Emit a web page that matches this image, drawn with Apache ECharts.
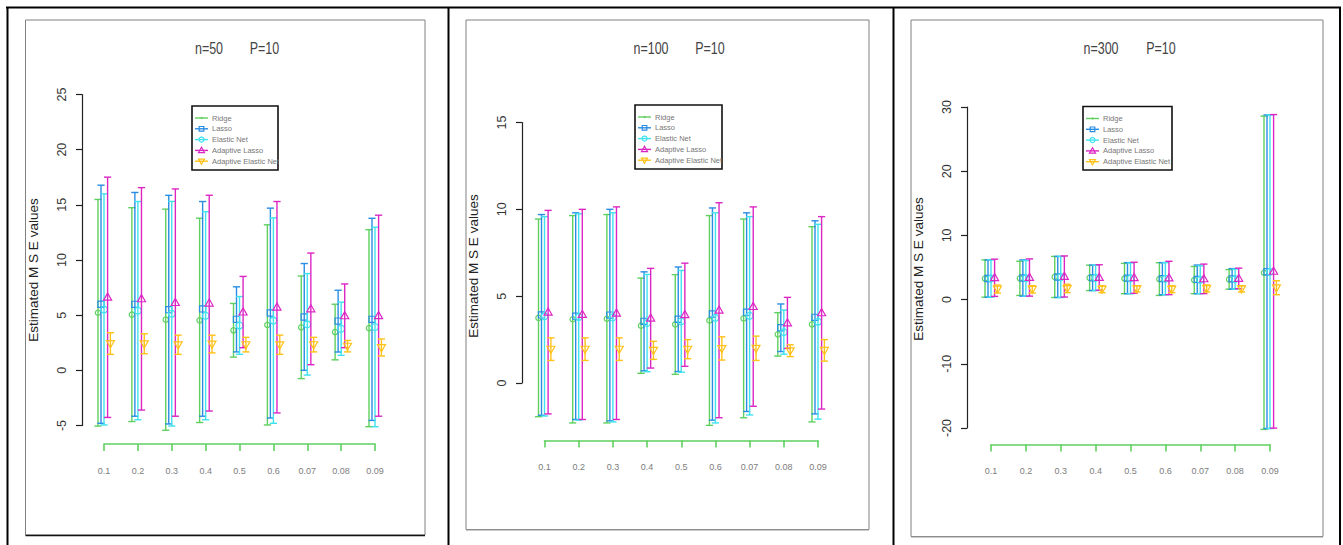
<!DOCTYPE html>
<html><head><meta charset="utf-8">
<script src="https://cdn.jsdelivr.net/npm/echarts@6/dist/echarts.min.js"></script>
<style>html,body{margin:0;padding:0;background:#fff}#c{width:1343px;height:545px}</style>
</head><body><div id="c"></div>
<script>
// ---------------- DATA ----------------
const categories = ['0.1','0.2','0.3','0.4','0.5','0.6','0.07','0.08','0.09'];
const methods = ['Ridge','Lasso','Elastic Net','Adaptive Lasso','Adaptive Elastic Net'];
const panelTitles = [['n=50','P=10'],['n=100','P=10'],['n=300','P=10']];
const yAxisTitle = 'Estimated M S E values';
// y-axis tick values per panel
const yTicksN50 = [-5, 0, 5, 10, 15, 20, 25];
const yTicksN100 = [0, 5, 10, 15];
const yTicksN300 = [-20, -10, 0, 10, 20, 30];

// n=50 : mean MSE (rows = methods, cols = categories)
const n50Mean = [
  [5.22, 5.05, 4.59, 4.53, 3.63, 4.12, 3.90, 3.47, 3.82],
  [5.99, 5.98, 5.50, 5.57, 4.62, 5.19, 4.84, 4.46, 4.62],
  [5.52, 5.41, 5.13, 4.95, 4.07, 4.51, 4.17, 3.77, 3.93],
  [6.62, 6.48, 6.14, 6.09, 5.28, 5.72, 5.57, 4.94, 4.95],
  [2.43, 2.41, 2.32, 2.38, 2.33, 2.32, 2.33, 2.19, 2.07]
];
// n=50 : error-bar half width
const n50Sd = [
  [10.27, 9.69, 10.02, 9.26, 2.43, 9.07, 4.65, 2.52, 8.93],
  [10.79, 10.14, 10.36, 9.73, 2.95, 9.51, 4.84, 2.80, 9.16],
  [10.47, 9.89, 10.18, 9.43, 2.62, 9.31, 4.60, 2.41, 9.04],
  [10.89, 10.08, 10.30, 9.78, 3.23, 9.58, 5.06, 2.89, 9.11],
  [0.98, 0.90, 0.87, 0.80, 0.66, 0.87, 0.66, 0.52, 0.77]
];
const n100Mean = [
  [3.75, 3.67, 3.70, 3.30, 3.37, 3.60, 3.72, 2.80, 3.38],
  [3.92, 3.85, 3.91, 3.55, 3.67, 3.97, 4.08, 3.18, 3.78],
  [3.84, 3.80, 3.78, 3.45, 3.55, 3.75, 3.87, 2.93, 3.53],
  [4.08, 3.95, 4.02, 3.73, 3.93, 4.19, 4.40, 3.46, 4.04],
  [1.95, 1.95, 1.95, 1.88, 1.95, 1.99, 2.00, 1.86, 1.88]
];
const n100Sd = [
  [5.69, 5.97, 6.00, 2.74, 2.87, 6.04, 5.72, 1.25, 5.62],
  [5.78, 5.95, 6.09, 2.85, 3.01, 6.11, 5.72, 1.37, 5.56],
  [5.74, 5.94, 6.02, 2.80, 2.93, 6.05, 5.71, 1.27, 5.61],
  [5.86, 6.05, 6.12, 2.87, 2.97, 6.19, 5.74, 1.47, 5.54],
  [0.65, 0.65, 0.65, 0.52, 0.55, 0.67, 0.70, 0.34, 0.62]
];
const n300Mean = [
  [3.28, 3.31, 3.53, 3.39, 3.28, 3.20, 3.04, 3.15, 4.18],
  [3.28, 3.36, 3.53, 3.39, 3.34, 3.26, 3.15, 3.23, 4.34],
  [3.28, 3.31, 3.53, 3.39, 3.31, 3.26, 3.09, 3.19, 4.34],
  [3.40, 3.44, 3.60, 3.45, 3.40, 3.37, 3.23, 3.30, 4.40],
  [1.65, 1.60, 1.74, 1.63, 1.68, 1.63, 1.74, 1.68, 1.85]
];
const n300Sd = [
  [2.90, 2.66, 3.20, 1.98, 2.36, 2.55, 2.12, 1.52, 24.40],
  [2.90, 2.82, 3.20, 1.98, 2.42, 2.50, 2.23, 1.60, 24.42],
  [2.90, 2.77, 3.20, 1.98, 2.40, 2.50, 2.17, 1.56, 24.42],
  [2.90, 2.90, 3.20, 1.98, 2.42, 2.60, 2.30, 1.60, 24.42],
  [0.62, 0.57, 0.65, 0.54, 0.49, 0.54, 0.55, 0.49, 1.09]
];

// ---------------- STYLE / LAYOUT ----------------
const COLORS = ['#5fd05f', '#2a8de4', '#3fe2ee', '#dc26c4', '#ffc21a'];
const OFFSETS = [-6, -3, 0, 3.6, 6.4];
const CAP = 3.6;
const FONT = 'Liberation Sans, Arial, Helvetica, sans-serif';
const AXIS_GREEN = COLORS[0];

const panels = [
  {mean: n50Mean, sd: n50Sd, ticks: yTicksN50,
   grid: {left: 104, top: 94.5, width: 271, height: 331}, yOff: 22, xOff: 18.5,
   box: [25.5, 20, 399.5, 515], legend: [192, 106, 86, 64], titleX: [209, 264.5], yTitle: [33, 270]},
  {mean: n100Mean, sd: n100Sd, ticks: yTicksN100,
   grid: {left: 544.5, top: 122.5, width: 273.5, height: 260.5}, yOff: 22.5, xOff: 57.5,
   box: [466, 20, 403, 509.5], legend: [635, 105, 87, 64], titleX: [651, 710], yTitle: [473, 266]},
  {mean: n300Mean, sd: n300Sd, ticks: yTicksN300,
   grid: {left: 991, top: 107, width: 279, height: 321}, yOff: 24, xOff: 16.5,
   box: [911, 20, 412, 516.5], legend: [1083, 106.5, 89, 63.5], titleX: [1101, 1161], yTitle: [918, 269]}
];

function markerShape(k, cx, cy, color, scale) {
  const s = scale || 1;
  const st = {stroke: color, lineWidth: 1.2, fill: null};
  if (k === 0) return {type: 'circle', shape: {cx, cy, r: 2.7 * s}, style: st};
  if (k === 1) return {type: 'rect', shape: {x: cx - 3.1 * s, y: cy - 3.1 * s, width: 6.2 * s, height: 6.2 * s}, style: st};
  if (k === 2) return {type: 'circle', shape: {cx, cy, r: 3.4 * s}, style: st};
  if (k === 3) return {type: 'polygon', shape: {points: [[cx, cy - 4.2 * s], [cx - 4 * s, cy + 2.9 * s], [cx + 4 * s, cy + 2.9 * s]]}, style: st};
  return {type: 'polygon', shape: {points: [[cx, cy + 4.2 * s], [cx - 4 * s, cy - 2.9 * s], [cx + 4 * s, cy - 2.9 * s]]}, style: st};
}

function makeRender(k) {
  return function (params, api) {
    const ci = api.value(0), m = api.value(1), s = api.value(2);
    const top = api.coord([ci, m + s]);
    const bot = api.coord([ci, m - s]);
    const mid = api.coord([ci, m]);
    const x = top[0] + OFFSETS[k];
    const st = {stroke: COLORS[k], lineWidth: 1.4, fill: null};
    return {type: 'group', children: [
      {type: 'line', shape: {x1: x, y1: top[1], x2: x, y2: bot[1]}, style: st},
      {type: 'line', shape: {x1: x - CAP, y1: top[1], x2: x + CAP, y2: top[1]}, style: st},
      {type: 'line', shape: {x1: x - CAP, y1: bot[1], x2: x + CAP, y2: bot[1]}, style: st},
      markerShape(k, x, mid[1], COLORS[k])
    ]};
  };
}

// y tick labels rotated 90deg (R style), positioned through the y axis scale
function makeTickLabelRender(yOff) {
  return function (params, api) {
    const v = api.value(1);
    const pt = api.coord([0, v]);
    return {type: 'text', x: pt[0] - yOff - 20, y: pt[1], rotation: Math.PI / 2, silent: true,
      style: {text: String(v), fill: '#333', fontSize: 12.5, fontFamily: FONT, align: 'center', verticalAlign: 'middle'}};
  };
}

const grids = [], xAxes = [], yAxes = [], series = [], graphics = [];

// outer frame
graphics.push({type: 'line', shape: {x1: 6, y1: 7.5, x2: 1341, y2: 7.5}, style: {stroke: '#000', lineWidth: 2}});
[7.5, 448.5, 893.5, 1340].forEach(x => graphics.push({type: 'line', shape: {x1: x, y1: 7, x2: x, y2: 545}, style: {stroke: '#000', lineWidth: 2}}));

panels.forEach((p, i) => {
  const t = p.ticks;
  grids.push(Object.assign({containLabel: false, outerBoundsMode: 'none'}, p.grid));
  xAxes.push({
    type: 'category', gridIndex: i, data: categories, boundaryGap: false, offset: p.xOff,
    axisLine: {onZero: false, lineStyle: {color: AXIS_GREEN, width: 1.6}},
    axisTick: {show: true, interval: 0, length: 7, lineStyle: {color: AXIS_GREEN, width: 1.6}},
    axisLabel: {interval: 0, margin: 22, fontSize: 9, color: '#7d7d7d', fontFamily: FONT},
    splitLine: {show: false}
  });
  yAxes.push({
    type: 'value', gridIndex: i, min: t[0], max: t[t.length - 1], interval: t[1] - t[0], offset: p.yOff,
    axisLine: {show: true, onZero: false, lineStyle: {color: '#222', width: 1.2}},
    axisTick: {show: true, length: 6, lineStyle: {color: '#222', width: 1.2}},
    axisLabel: {show: false},
    splitLine: {show: false}
  });
  methods.forEach((name, k) => {
    series.push({
      type: 'custom', name, xAxisIndex: i, yAxisIndex: i, clip: false,
      renderItem: makeRender(k),
      encode: {x: 0, y: 1},
      data: categories.map((c, j) => [j, p.mean[k][j], p.sd[k][j]])
    });
  });
  series.push({
    type: 'custom', name: 'yTickLabels' + i, xAxisIndex: i, yAxisIndex: i, clip: false, silent: true,
    renderItem: makeTickLabelRender(p.yOff),
    encode: {x: 0, y: 1},
    data: t.map(v => [0, v])
  });
  // inner plot box
  const b = p.box;
  graphics.push({type: 'rect', shape: {x: b[0], y: b[1], width: b[2], height: b[3]}, style: {stroke: '#808080', lineWidth: 1, fill: null}, z: -1});
  graphics.push({type: 'line', shape: {x1: b[0], y1: b[1] + b[3] + 0.5, x2: b[0] + b[2], y2: b[1] + b[3] + 0.5}, style: {stroke: i === 0 ? '#111' : '#999', lineWidth: i === 0 ? 1.5 : 1}});
  // title
  panelTitles[i].forEach((tt, q) => graphics.push({type: 'text', x: p.titleX[q], y: 48.5,
    style: {text: tt, fill: '#444', fontSize: 12.5, fontFamily: FONT, align: 'center', verticalAlign: 'middle'}, scaleY: 1.25}));
  // y axis title
  graphics.push({type: 'text', x: p.yTitle[0], y: p.yTitle[1], rotation: Math.PI / 2,
    style: {text: yAxisTitle, fill: '#222', fontSize: 13.5, fontFamily: FONT, align: 'center', verticalAlign: 'middle'}});
  // legend
  const L = p.legend;
  const items = [{type: 'rect', shape: {x: L[0], y: L[1], width: L[2], height: L[3]}, style: {stroke: '#111', lineWidth: 1.6, fill: '#fff'}}];
  methods.forEach((name, k) => {
    const yy = L[1] + 12 + k * 10.8;
    items.push({type: 'line', shape: {x1: L[0] + 3, y1: yy, x2: L[0] + 16, y2: yy}, style: {stroke: COLORS[k], lineWidth: 1.4}});
    items.push(k === 0 ? {type: 'circle', shape: {cx: L[0] + 9.5, cy: yy, r: 1}, style: {fill: COLORS[k]}} : markerShape(k, L[0] + 9.5, yy, COLORS[k], 0.75));
    items.push({type: 'text', x: L[0] + 20, y: yy, style: {text: name, fill: '#777', fontSize: 7.5, fontFamily: FONT, align: 'left', verticalAlign: 'middle'}});
  });
  graphics.push({type: 'group', children: items, z: 10});
});

const chart = echarts.init(document.getElementById('c'), null, {renderer: 'svg'});
chart.setOption({
  animation: false,
  backgroundColor: '#fff',
  grid: grids, xAxis: xAxes, yAxis: yAxes, series,
  graphic: graphics
});
</script></body></html>
